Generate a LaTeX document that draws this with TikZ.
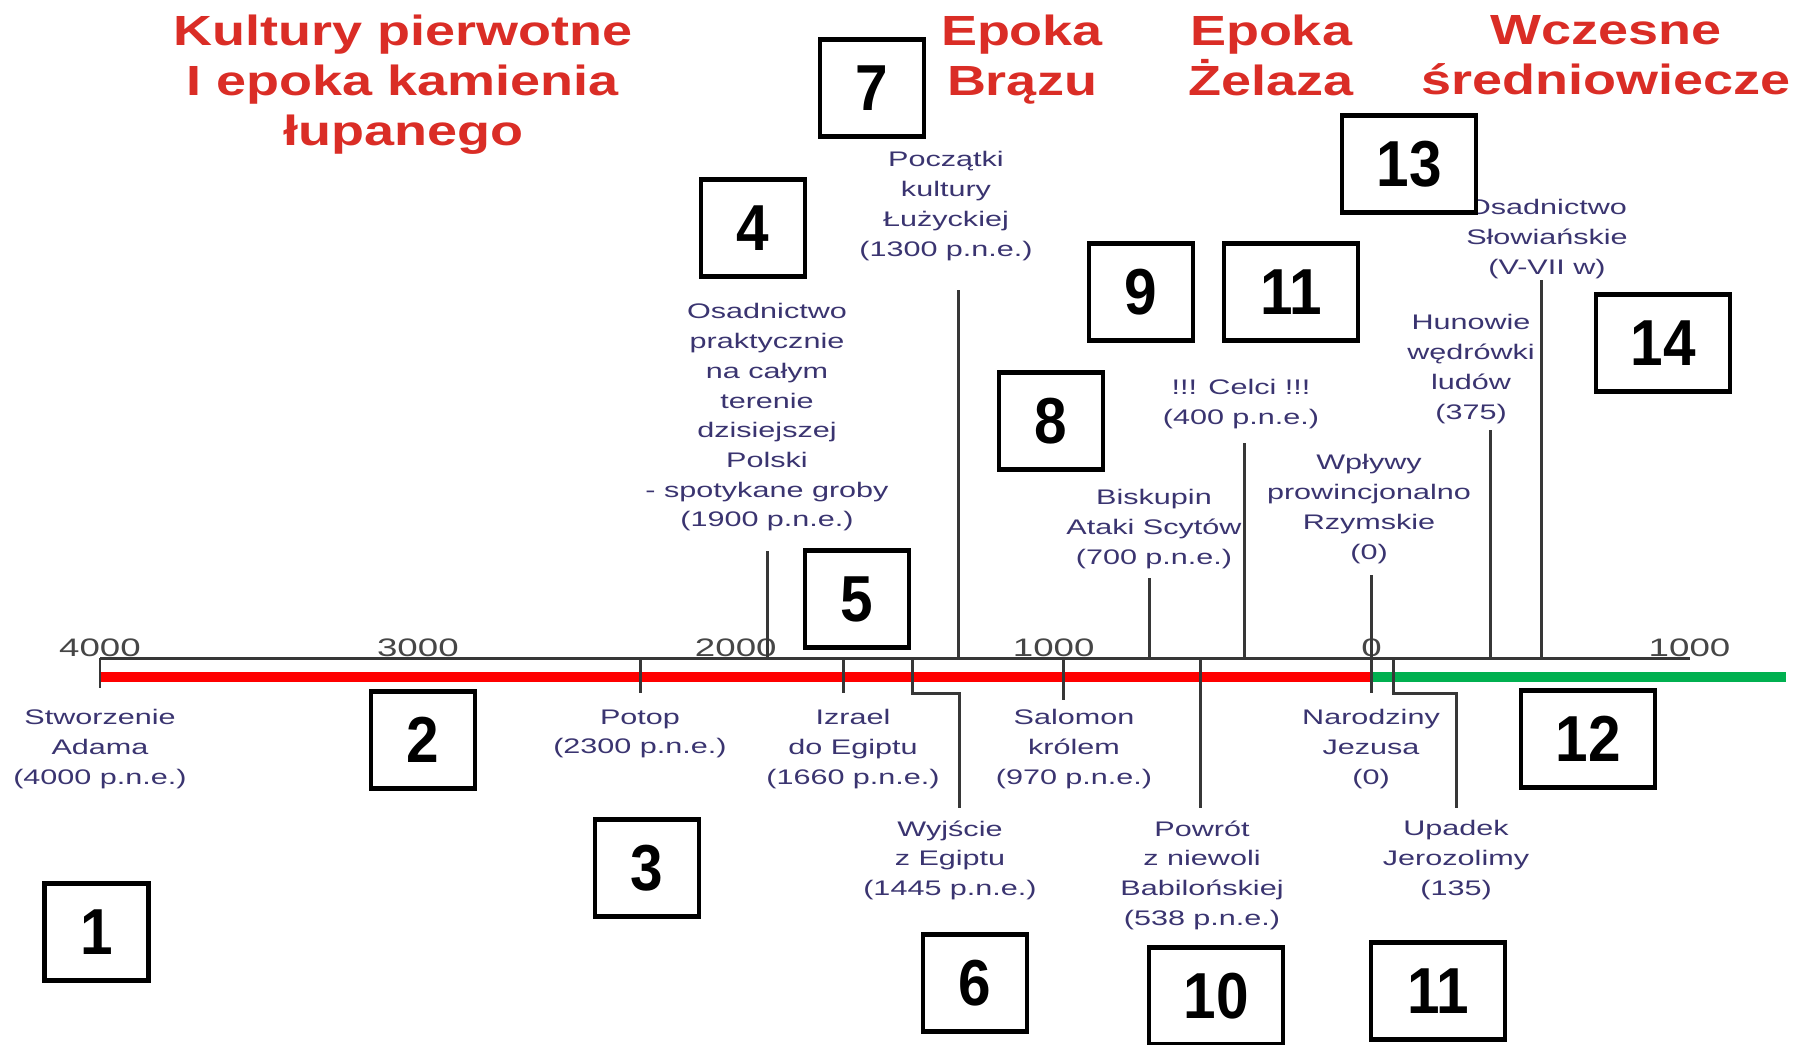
\documentclass[tikz,border=0pt]{standalone}
\usepackage{fontspec}
\usepackage{xcolor}
\usepackage{tikz}
\usetikzlibrary{positioning}
\usetikzlibrary{calc}

\newfontfamily\lblfont{Liberation Sans}[FakeStretch=1.45]
\newfontfamily\hdrfont{Liberation Sans}[FakeStretch=1.28]
\newfontfamily\boxfont{Liberation Sans}[FakeStretch=0.9]

\definecolor{evtxt}{RGB}{58,52,112}
\definecolor{hdr}{RGB}{218,45,38}
\definecolor{bcred}{RGB}{255,0,0}
\definecolor{adgreen}{RGB}{0,176,80}
\definecolor{axisgray}{RGB}{55,55,55}
\definecolor{yeargray}{RGB}{70,70,70}

\tikzstyle{numbox}=[rectangle,draw=black,fill=white,line width=1.3pt,minimum width=1.04cm,minimum height=0.97cm,inner sep=0pt,font=\boxfont\bfseries\fontsize{18.5}{20}\selectfont]
\tikzstyle{widebox}=[numbox,minimum width=1.34cm]
\tikzstyle{evlabel}=[align=center,inner sep=0pt,anchor=north,text=evtxt,font=\lblfont\fontsize{6}{8.45}\selectfont]
\tikzstyle{tickline} = [draw,line width=0.85pt,color=axisgray]
\tikzstyle{axisline} = [draw,line width=0.85pt,color=axisgray]
\tikzstyle{header} = [align=center,inner sep=0pt,text=hdr,font=\hdrfont\bfseries\fontsize{12}{14.2}\selectfont]
\tikzset{yearlbl/.style={anchor=base,inner sep=0pt,text=yeargray,font=\lblfont\fontsize{7.2}{8}\selectfont}}
\tikzset{redbar/.style={draw=bcred,line width=0.1cm},greenbar/.style={draw=adgreen,line width=0.1cm}}

\begin{document}
\begin{tikzpicture}[scale=1.]
  \useasboundingbox (0,0) rectangle (17.95,-10.45);

  \def\dx{13.716};
  \def\u{3.179};
  \def\ay{-6.58};

  % colour bars
  \coordinate (barL) at ({-4*\u+\dx}, -6.766);
  \coordinate (barM) at (\dx, -6.766);
  \coordinate (barR) at (17.86, -6.766);
  \path[redbar] (barL) -- (barM);
  \path[greenbar] (barM) -- (barR);

  % axis
  \coordinate (axL) at ({-4*\u+\dx}, \ay);
  \coordinate (axR) at ({\u+\dx}, \ay);
  \path[axisline] (axL) -- (axR);

  \foreach \x/\name/\label in {-4/ya/4000, -3/yb/3000, -2/yc/2000, -1/yd/1000, 0/ye/0, 1/yf/1000}
         \node[yearlbl] (\name) at ({\x*\u+\dx}, \ay+0.02) {\label};

  % below the axis
  \foreach \x/\y/\name/\label in {1.00/-7.09/adam/{Stworzenie\\Adama\\(4000 p.n.e.)}, 6.40/-7.09/potop/{Potop\\(2300 p.n.e.)},
          8.53/-7.09/izrael/{Izrael\\do Egiptu\\(1660 p.n.e.)}, 10.74/-7.09/salomon/{Salomon\\królem\\(970 p.n.e.)},
          13.71/-7.09/narodziny/{Narodziny\\Jezusa\\(0)}, 9.50/-8.20/wyjscie/{Wyjście\\z Egiptu\\(1445 p.n.e.)},
          12.02/-8.20/powrot/{Powrót\\z niewoli\\Babilońskiej\\(538 p.n.e.)}, 14.56/-8.20/upadek/{Upadek\\Jerozolimy\\(135)}}
         \node[evlabel] (\name) at (\x, \y) {\label};

  % above the axis
  \foreach \x/\y/\name/\label in {7.67/-3.03/osadnictwo/{Osadnictwo\\praktycznie\\na całym\\terenie\\dzisiejszej\\Polski\\- spotykane groby\\(1900 p.n.e.)},
          9.46/-1.51/poczatki/{Początki\\kultury\\Łużyckiej\\(1300 p.n.e.)}, 11.54/-4.89/biskupin/{Biskupin\\Ataki Scytów\\(700 p.n.e.)},
          12.41/-3.79/celci/{!!! Celci !!!\\(400 p.n.e.)}, 13.69/-4.54/wplywy/{Wpływy\\prowincjonalno\\Rzymskie\\(0)},
          14.71/-3.14/hunowie/{Hunowie\\wędrówki\\ludów\\(375)}, 15.47/-1.99/slowianie/{Osadnictwo\\Słowiańskie\\(V-VII w)}}
         \node[evlabel] (\name) at (\x, \y) {\label};

  % ticks
  \foreach \x/\ey/\name in {-4/-6.88/adam, -2.3/-6.93/potop, -1.66/-6.93/izrael, -0.97/-7.00/salomon, 0/-6.93/narodziny,
          -0.538/-8.08/powrot, -1.9/-5.51/osadnictwo, -1.3/-2.90/poczatki, -0.7/-5.78/biskupin, -0.4/-4.43/celci,
          0/-5.75/wplywy, 0.375/-4.30/hunowie, 0.533/-2.80/slowianie}{
     \coordinate (t\name) at ({\x*\u+\dx}, \ay);
     \coordinate (e\name) at ({\x*\u+\dx}, \ey);
     \path[tickline] (t\name) -- (e\name);
  }

  \coordinate (twyjscie) at ({-1.445*\u+\dx}, \ay);
  \coordinate (ewyjscie) at (9.59, -8.08);
  \coordinate (tupadek) at ({0.07*\u+\dx}, \ay);
  \coordinate (eupadek) at (14.56, -8.08);
  \foreach \source/ \dest in {twyjscie/ewyjscie, tupadek/eupadek}
         \path[tickline] (\source) -- ++(0,-0.35) -| (\dest);

  % numbered boxes
  \foreach \x/\y/\name/\label in {0.967/-9.32/b1/1, 4.23/-7.40/b2/2, 6.47/-8.68/b3/3, 7.53/-2.28/b4/4, 8.57/-5.99/b5/5,
          9.75/-9.83/b6/6, 8.72/-0.88/b7/7, 10.51/-4.21/b8/8, 11.41/-2.92/b9/9}
         \node[numbox] (\name) at (\x, \y) {\label};

  \foreach \x/\y/\name/\label in {12.16/-9.96/b10/10, 12.91/-2.92/b11a/11, 14.38/-9.91/b11b/11, 15.88/-7.39/b12/12,
          14.09/-1.64/b13/13, 16.63/-3.43/b14/14}
         \node[widebox] (\name) at (\x, \y) {\label};

  % epochs
  \node[header] (kultury) at (4.03,-0.85) {Kultury pierwotne\\I epoka kamienia\\łupanego};
  \node[header] (braz) at (10.22,-0.60) {Epoka\\Brązu};
  \node[header] (zelazo) at (12.71,-0.55) {Epoka\\Żelaza};
  \node[header] (sredn) at (16.06,-0.55) {Wczesne\\średniowiecze};

\end{tikzpicture}
\end{document}
